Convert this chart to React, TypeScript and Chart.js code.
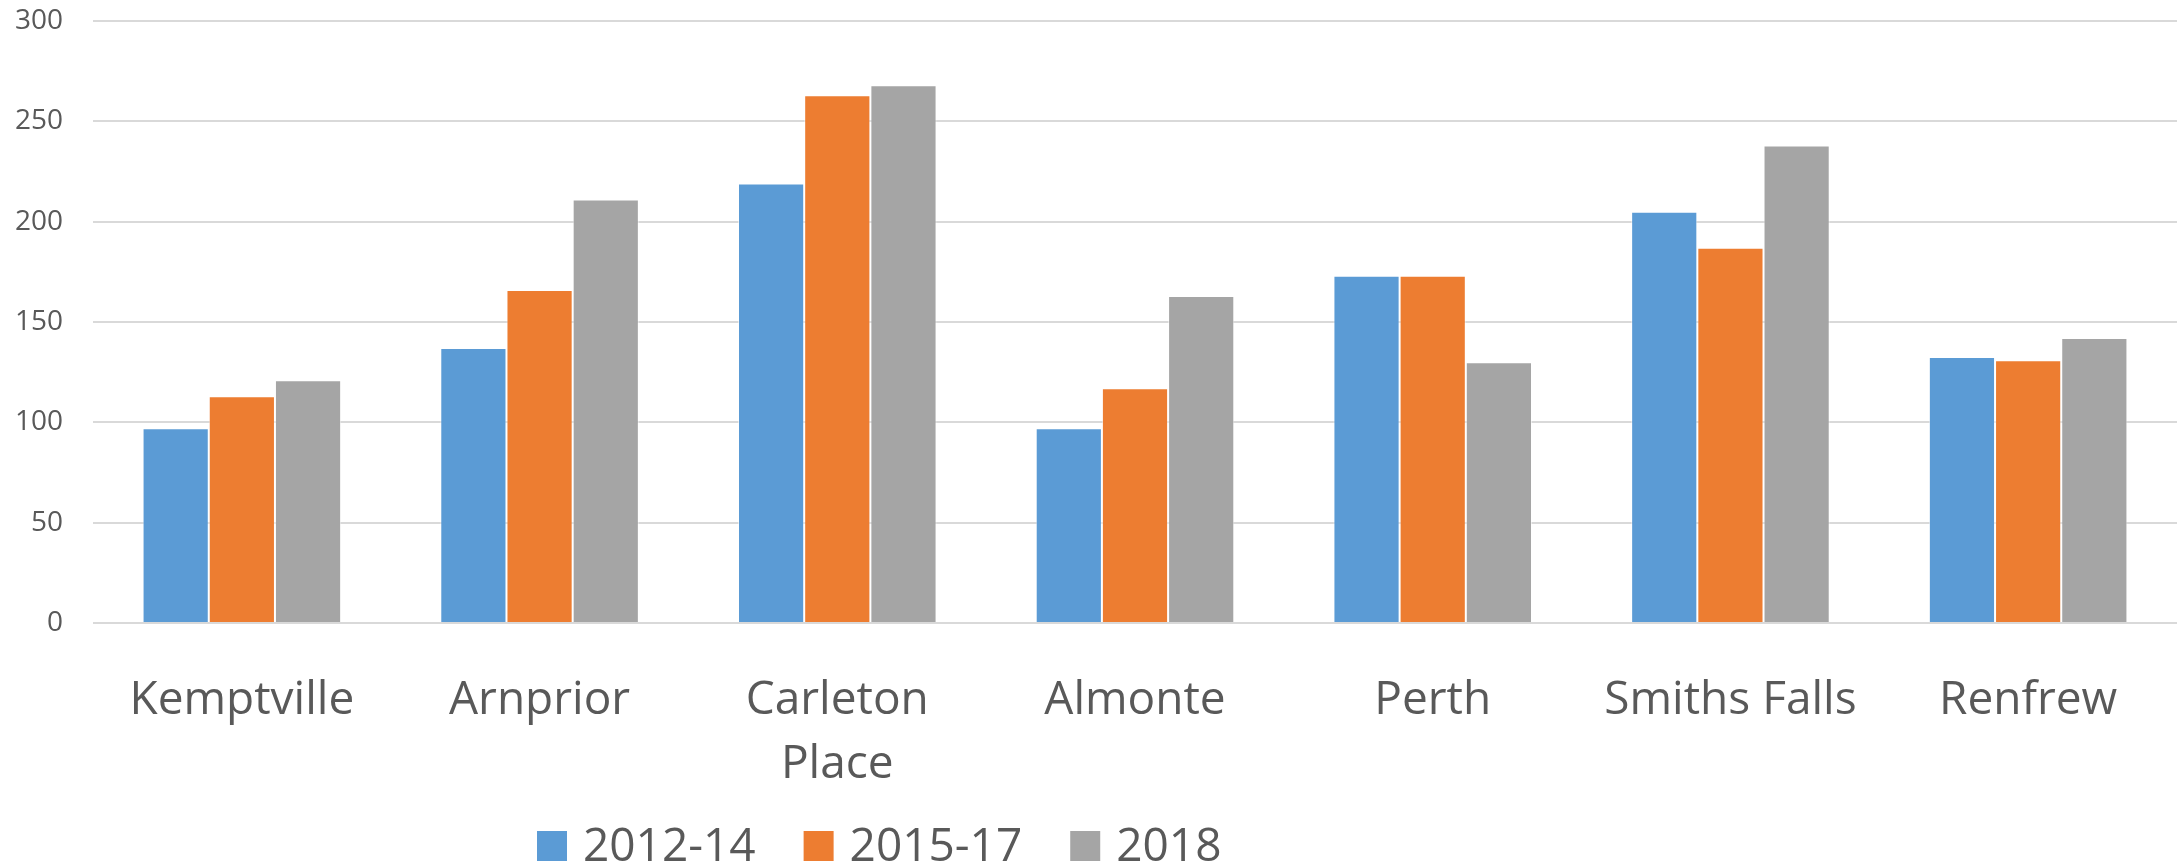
import React, { useEffect, useRef } from "react";
import { Chart, registerables } from "chart.js";

Chart.register(...registerables);

const categories: (string | string[])[] = [
  "Kemptville",
  "Arnprior",
  ["Carleton", "Place"],
  "Almonte",
  "Perth",
  "Smiths Falls",
  "Renfrew",
];

const seriesNames = ["2012-14", "2015-17", "2018"];
const series2012_14 = [97, 137, 219, 97, 173, 205, 132.5];
const series2015_17 = [113, 166, 263, 117, 173, 187, 131];
const series2018 = [121, 211, 268, 163, 130, 238, 142];
const seriesColors = ["#5B9BD5", "#ED7D31", "#A5A5A5"];

const yMin = 0;
const yMax = 300;
const yStep = 50;

const TEXT_COLOR = "#595959";
const FONT = '"Open Sans", "Noto Sans", sans-serif';

const LEGEND_X = 537;
const LEGEND_BASELINE = 861;
const LEGEND_BOX = 30;

const legendPlugin = {
  id: "customLegend",
  afterDraw(chart: any) {
    const ctx = chart.ctx;
    ctx.save();
    ctx.font = `46px ${FONT}`;
    ctx.textBaseline = "alphabetic";
    ctx.textAlign = "left";
    let x = LEGEND_X;
    chart.data.datasets.forEach((ds: any) => {
      ctx.fillStyle = ds.backgroundColor;
      ctx.fillRect(x, LEGEND_BASELINE - LEGEND_BOX, LEGEND_BOX, LEGEND_BOX);
      x += LEGEND_BOX + 16;
      ctx.fillStyle = TEXT_COLOR;
      ctx.fillText(ds.label, x, LEGEND_BASELINE);
      x += ctx.measureText(ds.label).width + 48;
    });
    ctx.restore();
  },
};

export default function App() {
  const canvasRef = useRef<HTMLCanvasElement | null>(null);

  useEffect(() => {
    document.body.style.margin = "0";
    const canvas = canvasRef.current;
    if (!canvas) return;
    const values = [series2012_14, series2015_17, series2018];
    const chart = new Chart(canvas, {
      type: "bar",
      data: {
        labels: categories as any,
        datasets: seriesNames.map((name, i) => ({
          label: name,
          data: values[i],
          backgroundColor: seriesColors[i],
          borderColor: "rgba(255,255,255,0.55)",
          borderWidth: 1,
          borderSkipped: "bottom",
          categoryPercentage: 0.667,
          barPercentage: 1.0,
        })),
      },
      options: {
        animation: false,
        responsive: true,
        maintainAspectRatio: false,
        layout: { padding: { top: 21, right: 6, bottom: 0, left: 0 } },
        plugins: {
          legend: { display: false },
          tooltip: { enabled: false },
        },
        scales: {
          x: {
            grid: { display: false },
            border: { display: false },
            ticks: {
              color: TEXT_COLOR,
              font: { family: FONT, size: 46, lineHeight: 1.39 },
              padding: 38,
              maxRotation: 0,
              autoSkip: false,
            },
            afterFit(scale: any) {
              scale.height = 243;
            },
          },
          y: {
            min: yMin,
            max: yMax,
            grid: { color: "#D9D9D9", lineWidth: 2, drawTicks: false },
            border: { display: false },
            ticks: {
              stepSize: yStep,
              color: TEXT_COLOR,
              font: { family: FONT, size: 28 },
              padding: 30,
            },
            afterFit(scale: any) {
              scale.width = 93;
              scale.paddingTop = 0;
            },
          },
        },
      },
      plugins: [legendPlugin],
    });
    return () => chart.destroy();
  }, []);

  return (
    <div style={{ width: 2183, height: 866, position: "relative" }}>
      <canvas ref={canvasRef} />
    </div>
  );
}
